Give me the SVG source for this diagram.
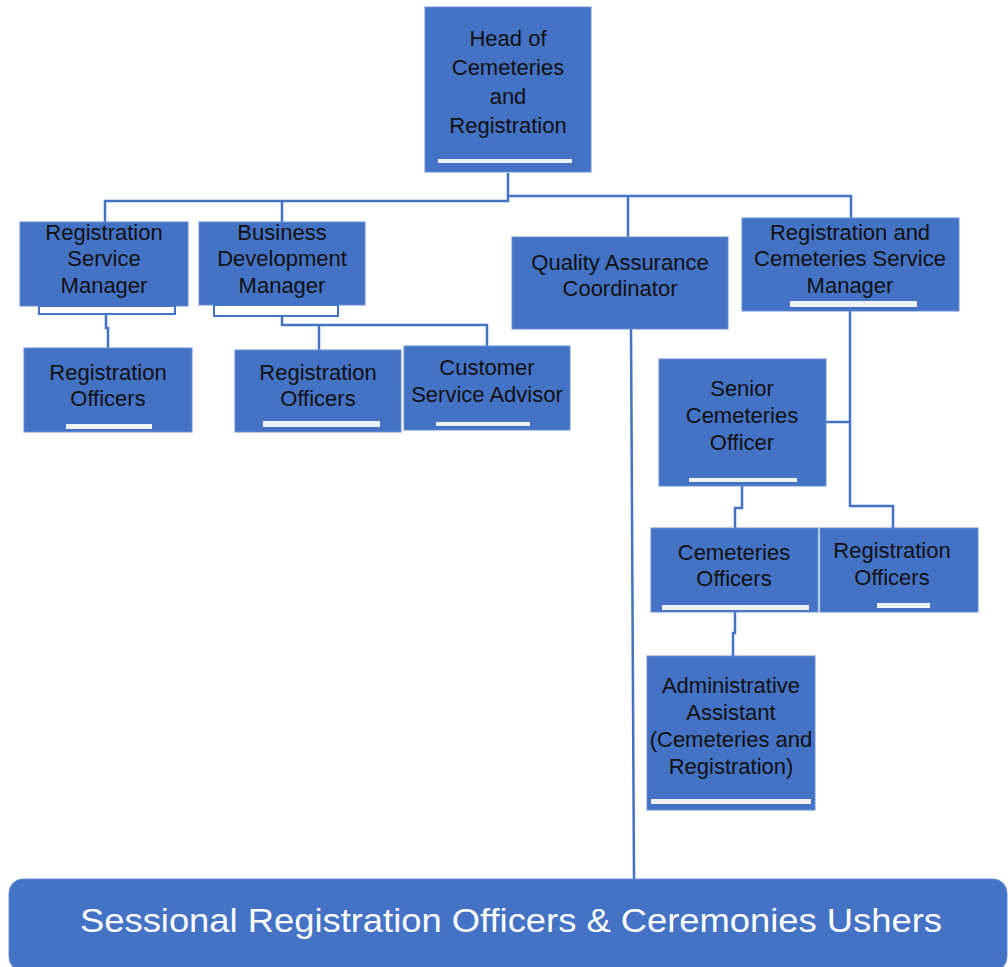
<svg xmlns="http://www.w3.org/2000/svg" width="1008" height="967" viewBox="0 0 1008 967">
<style>
.box{fill:#4472C4;stroke:#6a8fd0;stroke-width:1}
.bar{fill:#eef2fa}
.sub{fill:#ffffff;stroke:#4472C4;stroke-width:2}
.t{font-family:"Liberation Sans",Arial,sans-serif;font-size:22px;fill:#111111;text-anchor:middle}
.big{font-family:"Liberation Sans",Arial,sans-serif;font-size:34px;fill:#ffffff}
.c{fill:none;stroke:#4472C4;stroke-width:2.5}
</style>
<rect width="1008" height="967" fill="#ffffff"/>
<g id="connectors">
<path class="c" d="M508 173 V201 H105 V222"/>
<path class="c" d="M282 201 V222"/>
<path class="c" d="M508 196 H851 V218"/>
<path class="c" d="M628 196 V237"/>
<path class="c" d="M106 314 V328 H108 V348"/>
<path class="c" d="M282 316 V325 H487 V346"/>
<path class="c" d="M319 325 V350"/>
<path class="c" d="M631 329 L634 880" stroke-width="2"/>
<path class="c" d="M850 311 V506 H893 V528"/>
<path class="c" d="M826 422 H850"/>
<path class="c" d="M742 486 V508 H735 V528"/>
<path class="c" d="M735 612 V633 H733 V656"/>
</g>
<g id="head">
<rect class="box" x="425" y="7" width="166" height="165"/>
<rect class="bar" x="438" y="159" width="134" height="4" fill="#ffffff"/>
<text class="t" x="508" y="46">Head of</text>
<text class="t" x="508" y="75">Cemeteries</text>
<text class="t" x="508" y="104">and</text>
<text class="t" x="508" y="133">Registration</text>
</g>
<g id="rsm">
<rect class="box" x="20" y="222" width="168" height="84"/>
<rect class="sub" x="39" y="306" width="136" height="8"/>
<text class="t" x="104" y="240">Registration</text>
<text class="t" x="104" y="266">Service</text>
<text class="t" x="104" y="293">Manager</text>
</g>
<g id="bdm">
<rect class="box" x="199" y="222" width="166" height="83"/>
<rect class="sub" x="214" y="305" width="124" height="11"/>
<text class="t" x="282" y="240">Business</text>
<text class="t" x="282" y="266">Development</text>
<text class="t" x="282" y="293">Manager</text>
</g>
<g id="ro1">
<rect class="box" x="24" y="348" width="168" height="84"/>
<rect class="bar" x="66" y="424" width="86" height="5"/>
<text class="t" x="108" y="380">Registration</text>
<text class="t" x="108" y="406">Officers</text>
</g>
<g id="ro2">
<rect class="box" x="235" y="350" width="166" height="82"/>
<rect class="bar" x="263" y="421" width="117" height="6"/>
<text class="t" x="318" y="380">Registration</text>
<text class="t" x="318" y="406">Officers</text>
</g>
<g id="csa">
<rect class="box" x="404" y="346" width="166" height="84"/>
<rect class="bar" x="436" y="422" width="94" height="4"/>
<text class="t" x="487" y="375">Customer</text>
<text class="t" x="487" y="402">Service Advisor</text>
</g>
<g id="qa">
<rect class="box" x="512" y="237" width="216" height="92"/>
<text class="t" x="620" y="270">Quality Assurance</text>
<text class="t" x="620" y="296">Coordinator</text>
</g>
<g id="rcsm">
<rect class="box" x="742" y="218" width="217" height="93"/>
<rect class="bar" x="790" y="301" width="127" height="6"/>
<text class="t" x="850" y="240">Registration and</text>
<text class="t" x="850" y="266">Cemeteries Service</text>
<text class="t" x="850" y="293">Manager</text>
</g>
<g id="sco">
<rect class="box" x="659" y="359" width="167" height="127"/>
<rect class="bar" x="689" y="478" width="108" height="4"/>
<text class="t" x="742" y="396">Senior</text>
<text class="t" x="742" y="423">Cemeteries</text>
<text class="t" x="742" y="450">Officer</text>
</g>
<g id="co">
<rect class="box" x="651" y="528" width="167" height="84"/>
<rect class="bar" x="662" y="605" width="147" height="5"/>
<text class="t" x="734" y="560">Cemeteries</text>
<text class="t" x="734" y="586">Officers</text>
</g>
<g id="ro3">
<rect class="box" x="820" y="528" width="158" height="84"/>
<rect class="bar" x="877" y="603" width="53" height="5"/>
<text class="t" x="892" y="558">Registration</text>
<text class="t" x="892" y="585">Officers</text>
</g>
<g id="aa">
<rect class="box" x="647" y="656" width="168" height="154"/>
<rect class="bar" x="651" y="799" width="160" height="5"/>
<text class="t" x="731" y="693">Administrative</text>
<text class="t" x="731" y="720">Assistant</text>
<text class="t" x="731" y="747">(Cemeteries and</text>
<text class="t" x="731" y="774">Registration)</text>
</g>
<g id="sessional">
<rect class="box" x="9" y="879" width="998" height="92" rx="14" ry="14"/>
<text class="big" x="80" y="932" textLength="862" lengthAdjust="spacingAndGlyphs">Sessional Registration Officers &amp; Ceremonies Ushers</text>
</g>
</svg>
